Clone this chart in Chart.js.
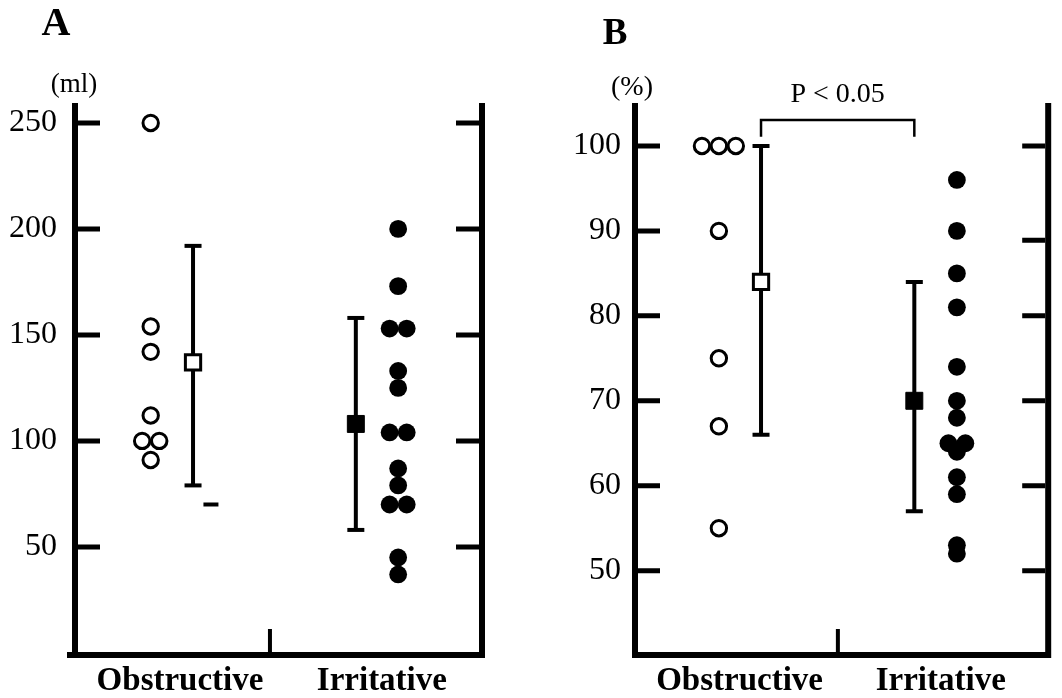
<!DOCTYPE html>
<html lang="en">
<head>
<meta charset="UTF-8">
<title>Obstructive vs Irritative</title>
<style>
  html, body { margin: 0; padding: 0; background: #fff; }
  body { width: 1062px; height: 698px; position: relative; overflow: hidden; }
  .panel { position: absolute; top: 0; width: 531px; height: 698px; }
  #panelA { left: 0; }
  #panelB { left: 531px; }
</style>
</head>
<body>
<div class="panel" id="panelA"><canvas id="chartA"></canvas></div>
<div class="panel" id="panelB"><canvas id="chartB"></canvas></div>

<script src="https://cdn.jsdelivr.net/npm/chart.js@4.4.0/dist/chart.umd.min.js"></script>
<script>
const categories = ['Obstructive', 'Irritative'];

// panel A, volume (ml)
const volTicks = [50, 100, 150, 200, 250];
const volObstructive = [250, 154, 142, 112, 100, 100, 91];
const volIrritative = [200, 173, 153, 153, 133, 125, 104, 104, 87, 79, 70, 70, 45, 37];
const volMean = [137, 108];
const volLow = [79, 58];
const volHigh = [192, 158];
const volStray = [70];

// panel B, percent
const pctTicks = [50, 60, 70, 80, 90, 100];
const pctRightTicks = [50, 60, 70, 80, 88.9, 100];
const pctObstructive = [100, 100, 100, 90, 75, 67, 55];
const pctIrritative = [96, 90, 85, 81, 74, 70, 68, 65, 65, 64, 61, 59, 53, 52];
const pctMean = [84, 70];
const pctLow = [66, 57];
const pctHigh = [100, 84];

const SERIF = '"Liberation Serif", "Times New Roman", serif';

// equal values sit side by side, like the hand-drawn dot plot
function spread(values, center, step) {
    const out = [];
    let i = 0;
    while (i < values.length) {
        let j = i;
        while (j + 1 < values.length && values[j + 1] === values[i]) j++;
        const n = j - i + 1;
        for (let k = 0; k < n; k++) {
            out.push({ x: center + (k - (n - 1) / 2) * step, y: values[i + k] });
        }
        i = j + 1;
    }
    return out;
}

function errBar(x, lo, hi) {
    return {
        data: [{ x: x, y: lo }, { x: x, y: hi }],
        showLine: true,
        borderColor: '#000', backgroundColor: '#000',
        borderWidth: 4,
        pointStyle: 'line', pointRadius: 8.5, pointBorderWidth: 4,
        order: 1
    };
}

const panelFrame = {
    id: 'panelFrame',
    afterDraw(chart, args, o) {
        const { ctx, chartArea: a, scales: { x, y } } = chart;
        ctx.save();
        ctx.strokeStyle = '#000';
        ctx.fillStyle = '#000';

        ctx.lineWidth = 6;
        ctx.beginPath();
        ctx.moveTo(a.left, a.top); ctx.lineTo(a.left, a.bottom + 3);
        ctx.moveTo(a.right, a.top); ctx.lineTo(a.right, a.bottom + 3);
        ctx.moveTo(a.left - o.overhang, a.bottom); ctx.lineTo(a.right + 3, a.bottom);
        ctx.stroke();

        ctx.lineWidth = 5;
        ctx.beginPath();
        y.ticks.forEach(t => {
            const py = y.getPixelForValue(t.value);
            ctx.moveTo(a.left + 3, py); ctx.lineTo(a.left + 25, py);
        });
        o.rightTicks.forEach(v => {
            const py = y.getPixelForValue(v);
            ctx.moveTo(a.right - 3, py); ctx.lineTo(a.right - 26, py);
        });
        ctx.stroke();

        ctx.lineWidth = 4;
        const mx = x.getPixelForValue(o.midTick);
        ctx.beginPath();
        ctx.moveTo(mx, a.bottom); ctx.lineTo(mx, a.bottom - 26);
        ctx.stroke();

        ctx.textAlign = 'center';
        ctx.textBaseline = 'alphabetic';
        ctx.font = 'bold ' + o.titleSize + 'px ' + SERIF;
        ctx.fillText(o.title, o.titleX, o.titleY);
        ctx.font = o.unitSize + 'px ' + SERIF;
        ctx.fillText(o.unit, a.left + o.unitDx, o.unitY);

        if (o.pText) {
            const cx = (x.getPixelForValue(o.pFrom) + x.getPixelForValue(o.pTo)) / 2;
            ctx.font = '28px ' + SERIF;
            ctx.fillText(o.pText, cx, y.getPixelForValue(o.pLevel) - 18);
        }
        ctx.restore();
    }
};

function buildPanel(id, p) {
    const datasets = [
        {
            data: [{ x: p.meanX[0], y: p.mean[0] }],
            pointStyle: 'rect', pointRadius: 10.8, pointBorderWidth: 3,
            backgroundColor: '#fff', borderColor: '#000', order: 0
        },
        {
            data: [{ x: p.meanX[1], y: p.mean[1] }],
            pointStyle: 'rect', pointRadius: 12, pointBorderWidth: 1,
            backgroundColor: '#000', borderColor: '#000', order: 0
        },
        errBar(p.meanX[0], p.low[0], p.high[0]),
        errBar(p.meanX[1], p.low[1], p.high[1]),
        {
            data: spread(p.obstructive, p.dotX[0], p.step),
            pointStyle: 'circle', pointRadius: 7.7, pointBorderWidth: 3,
            backgroundColor: '#fff', borderColor: '#000', order: 2
        },
        {
            data: spread(p.irritative, p.dotX[1], p.step),
            pointStyle: 'circle', pointRadius: 8.9, pointBorderWidth: 0,
            backgroundColor: '#000', borderColor: '#000', order: 2
        }
    ];
    if (p.stray) {
        datasets.push({
            data: p.stray.map(v => ({ x: p.strayX, y: v })),
            pointStyle: 'line', pointRadius: 7.5, pointBorderWidth: 4,
            backgroundColor: '#000', borderColor: '#000', order: 1
        });
    }
    if (p.bracket) {
        const b = p.bracket;
        datasets.push({
            data: [
                { x: p.meanX[0], y: b.foot }, { x: p.meanX[0], y: b.level },
                { x: p.meanX[1], y: b.level }, { x: p.meanX[1], y: b.foot }
            ],
            showLine: true, borderWidth: 2.5, pointRadius: 0,
            backgroundColor: '#000', borderColor: '#000', order: 1
        });
    }

    return new Chart(document.getElementById(id), {
        type: 'scatter',
        data: { datasets: datasets },
        options: {
            responsive: true,
            maintainAspectRatio: false,
            animation: false,
            events: [],
            layout: { padding: { top: 103, right: p.padRight, left: 0, bottom: 0 } },
            plugins: {
                legend: { display: false },
                tooltip: { enabled: false },
                panelFrame: p.frame
            },
            scales: {
                x: {
                    type: 'linear', min: 0, max: 100,
                    grid: { display: false, drawTicks: false },
                    border: { display: false },
                    afterBuildTicks: s => { s.ticks = p.labelX.map(v => ({ value: v })); },
                    afterFit: s => { s.height = 43; },
                    ticks: {
                        autoSkip: false, maxRotation: 0, padding: 7, color: '#000',
                        font: { family: SERIF, size: 33, weight: 'bold' },
                        callback: (v, i) => categories[i]
                    }
                },
                y: {
                    type: 'linear', min: p.yMin, max: p.yMax,
                    grid: { display: false, drawTicks: false },
                    border: { display: false },
                    afterBuildTicks: s => { s.ticks = p.yTicks.map(v => ({ value: v })); },
                    afterFit: s => { s.width = p.axisLeft; },
                    ticks: {
                        padding: p.tickPad, color: '#000',
                        font: { family: SERIF, size: 32 }
                    }
                }
            }
        },
        plugins: [panelFrame]
    });
}

buildPanel('chartA', {
    yMin: -1, yMax: 259.4, yTicks: volTicks,
    axisLeft: 75, padRight: 49, tickPad: 18,
    obstructive: volObstructive, irritative: volIrritative,
    mean: volMean, low: volLow, high: volHigh,
    dotX: [18.6, 79.4], meanX: [29.0, 69.0], labelX: [25.8, 75.4], step: 4.2,
    stray: volStray, strayX: 33.4,
    frame: {
        overhang: 8, rightTicks: volTicks, midTick: 47.9,
        title: 'A', titleSize: 40, titleX: 56, titleY: 35,
        unit: '(ml)', unitSize: 27, unitDx: -1, unitY: 92
    }
});

buildPanel('chartB', {
    yMin: 40.07, yMax: 105.06, yTicks: pctTicks,
    axisLeft: 104, padRight: 11, tickPad: 14,
    obstructive: pctObstructive, irritative: pctIrritative,
    mean: pctMean, low: pctLow, high: pctHigh,
    dotX: [20.3, 77.9], meanX: [30.5, 67.6], labelX: [25.3, 74.0], step: 4.1,
    bracket: { level: 103.06, foot: 101.1 },
    frame: {
        overhang: 2, rightTicks: pctRightTicks, midTick: 49.1,
        title: 'B', titleSize: 37, titleX: 84, titleY: 44,
        unit: '(%)', unitSize: 28, unitDx: -3, unitY: 95,
        pText: 'P < 0.05', pFrom: 30.5, pTo: 67.6, pLevel: 103.06
    }
});
</script>
</body>
</html>
